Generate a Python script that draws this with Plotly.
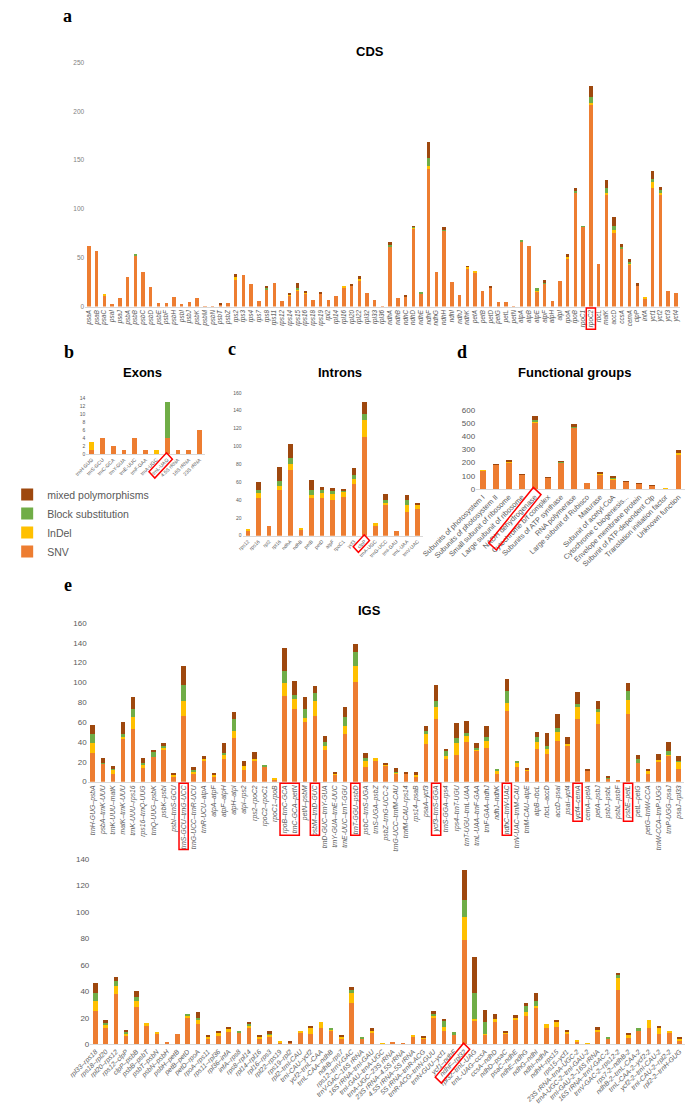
import plotly.graph_objects as go

W, H = 685, 1112
SERIES = ["SNV", "InDel", "Block substitution", "mixed polymorphisms"]
COLORS = ["#ED7D31", "#FFC000", "#70AD47", "#9E480E"]

# ---------------- a: CDS ----------------
cds_genes = ["psaA", "psaB", "psaC", "psaI", "psaJ", "psbA", "psbB", "psbC", "psbD", "psbE", "psbF", "psbH",
             "psbI", "psbJ", "psbK", "psbM", "psbN", "psbT", "psbZ", "rps2", "rps3", "rps4", "rps7", "rps8",
             "rps11", "rps12", "rps14", "rps15", "rps16", "rps18", "rps19", "rpl2", "rpl14", "rpl16", "rpl20",
             "rpl22", "rpl32", "rpl33", "rpl36", "ndhA", "ndhB", "ndhC", "ndhD", "ndhE", "ndhF", "ndhG", "ndhH",
             "ndhI", "ndhJ", "ndhK", "petA", "petB", "petD", "petG", "petL", "petN", "atpA", "atpB", "atpE",
             "atpF", "atpH", "atpI", "rpoA", "rpoB", "rpoC1", "rpoC2", "rbcL", "matK", "accD", "ccsA", "cemA",
             "clpP", "infA", "ycf1", "ycf2", "ycf3", "ycf4"]
cds_snv = [62, 57, 12, 3, 9, 30, 53, 35, 20, 4, 4, 10, 3, 5, 9, 1, 1, 3, 4, 28, 32, 23, 6, 17, 24, 6, 12, 17, 14,
           7, 14, 7, 11, 20, 22, 27, 14, 7, 1, 61, 9, 11, 80, 14, 141, 35, 78, 25, 12, 39, 35, 16, 20, 5, 5, 1,
           67, 62, 16, 24, 6, 26, 50, 117, 82, 206, 44, 115, 76, 60, 44, 22, 9, 121, 114, 16, 14]
cds_indel = [0, 0, 1, 0, 0, 0, 0, 0, 0, 0, 0, 0, 0, 0, 0, 0, 0, 0, 0, 2, 0, 0, 0, 0, 0, 0, 1, 1, 1, 0, 0, 0, 0, 1,
             0, 1, 0, 0, 0, 0, 0, 0, 1, 0, 3, 0, 0, 0, 0, 2, 1, 0, 0, 0, 0, 0, 0, 0, 1, 0, 0, 0, 1, 0, 0, 3, 0, 1,
             2, 0, 1, 0, 1, 7, 3, 0, 0]
cds_block = [0, 0, 0, 0, 0, 0, 1, 0, 0, 0, 0, 0, 0, 0, 0, 0, 0, 0, 0, 0, 0, 0, 0, 3, 0, 0, 0, 1, 0, 0, 0, 0, 0, 0,
             0, 0, 0, 0, 0, 3, 0, 0, 1, 1, 8, 0, 1, 0, 0, 0, 0, 0, 0, 0, 0, 0, 1, 0, 2, 1, 0, 0, 0, 1, 1, 6, 0, 5,
             5, 1, 1, 0, 0, 3, 2, 0, 0]
cds_mixed = [0, 0, 0, 0, 0, 0, 0, 0, 0, 0, 0, 0, 0, 0, 0, 0, 0, 1, 0, 3, 0, 0, 0, 1, 0, 0, 1, 5, 1, 0, 1, 0, 0, 0,
             1, 3, 0, 0, 0, 2, 0, 1, 1, 0, 17, 0, 2, 0, 0, 1, 0, 0, 1, 0, 0, 0, 0, 0, 0, 2, 0, 0, 3, 3, 0, 11, 0,
             9, 9, 3, 3, 2, 0, 8, 3, 0, 0]

# ---------------- b: Exons ----------------
exon_names = ["trnH-GUG", "trnS-GCU", "trnC-GCA", "trnY-GUA", "trnE-UUC", "trnF-GAA", "trnA-UGC", "trnL-UAG",
              "4.5S rRNA", "16S rRNA", "23S rRNA"]
exon_snv = [1, 4, 2, 1, 4, 1, 0, 4, 1, 1, 6]
exon_indel = [2, 0, 0, 0, 0, 0, 1, 0, 0, 0, 0]
exon_block = [0, 0, 0, 0, 0, 0, 0, 9, 0, 0, 0]
exon_mixed = [0, 0, 0, 0, 0, 0, 0, 0, 0, 0, 0]

# ---------------- c: Introns ----------------
intron_names = ["rps12", "rps16", "rpl2", "rpl16", "ndhA", "ndhB", "petB", "petD", "atpF", "rpoC1", "ycf3",
                "clpP", "trnA-UGC", "trnG-UCC", "trnI-GAU", "trnL-UAA", "trnV-UAC"]
intron_snv = [6, 42, 11, 51, 73, 7, 42, 42, 40, 43, 58, 110, 12, 34, 5, 27, 30]
intron_indel = [1, 7, 0, 5, 7, 1, 4, 7, 7, 7, 6, 19, 2, 3, 0, 7, 5]
intron_block = [0, 2, 0, 5, 7, 0, 5, 2, 3, 1, 4, 7, 0, 3, 0, 6, 0]
intron_mixed = [0, 9, 0, 16, 16, 0, 11, 3, 3, 1, 8, 14, 0, 7, 0, 6, 1]

# ---------------- d: Functional groups ----------------
func_names = ["Subunits of photosystem I", "Subunits of photosystem II", "Small subunit of ribosome",
              "Large subunit of ribosome", "NADH dehydrogenase", "Cytochrome b/f complex",
              "Subunits of ATP synthase", "RNA polymerase", "Large subunit of Rubisco", "Maturase",
              "Subunit of acetyl-CoA", "Cytochrome c biogenesis...", "Envelope membrane protein",
              "Subunit of ATP-dependent Clp", "Translation initiation factor", "Unknown function"]
func_snv = [143, 188, 206, 111, 506, 88, 203, 465, 43, 116, 78, 59, 45, 26, 9, 265]
func_indel = [1, 0, 4, 1, 6, 1, 1, 4, 0, 1, 2, 0, 1, 0, 1, 10]
func_block = [0, 1, 4, 0, 13, 0, 4, 8, 0, 5, 6, 1, 1, 0, 0, 5]
func_mixed = [0, 1, 9, 4, 27, 2, 2, 12, 0, 10, 10, 3, 1, 2, 0, 14]

# ---------------- e: IGS (top row) ----------------
igs1_names = ["trnH-GUG–psbA", "psbA–trnK-UUU", "trnK-UUU–matK", "matK–trnK-UUU", "trnK-UUU–rps16",
              "rps16–trnQ-UUG", "trnQ-UUG–psbK", "psbK–psbI", "psbI–trnS-GCU", "trnS-GCU–trnG-UCC",
              "trnG-UCC–trnR-UCU", "trnR-UCU–atpA", "atpA–atpF", "atpF–atpH", "atpH–atpI", "atpI–rps2",
              "rps2–rpoC2", "rpoC2–rpoC1", "rpoC1–rpoB", "rpoB–trnC-GCA", "trnC-GCA–petN", "petN–psbM",
              "psbM–trnD-GUC", "trnD-GUC–trnY-GUA", "trnY-GUA–trnE-UUC", "trnE-UUC–trnT-GGU",
              "trnT-GGU–psbD", "psbC–trnS-UGA", "trnS-UGA–psbZ", "psbZ–trnG-UCC-2", "trnG-UCC–trnfM-CAU",
              "trnfM-CAU–rps14", "rps14–psaB", "psaA–ycf3", "ycf3–trnS-GGA", "trnS-GGA–rps4",
              "rps4–trnT-UGU", "trnT-UGU–trnL-UAA", "trnL-UAA–trnF-GAA", "trnF-GAA–ndhJ", "ndhJ–ndhK",
              "ndhC–trnV-UAC", "trnV-UAC–trnM-CAU", "trnM-CAU–atpE", "atpB–rbcL", "rbcL–accD", "accD–psaI",
              "psaI–ycf4", "ycf4–cemA", "cemA–petA", "petA–psbJ", "psbJ–psbL", "psbL–psbF", "psbE–petL",
              "petL–petG", "petG–trnW-CCA", "trnW-CCA–trnP-UGG", "trnP-UGG–psaJ", "psaJ–rpl33"]
igs1_snv = [29, 18, 8, 44, 53, 14, 25, 32, 5, 66, 8, 21, 5, 23, 44, 12, 21, 15, 2, 86, 73, 60, 66, 32, 7, 48,
            100, 15, 21, 16, 8, 8, 5, 38, 63, 23, 27, 40, 31, 34, 8, 71, 15, 11, 33, 28, 41, 36, 63, 11, 58, 3,
            2, 68, 19, 8, 20, 26, 13]
igs1_indel = [10, 0, 4, 1, 12, 3, 0, 2, 2, 15, 2, 2, 2, 4, 7, 4, 2, 0, 1, 13, 10, 4, 15, 4, 1, 8, 17, 6, 3, 1,
              1, 0, 2, 11, 12, 3, 12, 7, 1, 7, 3, 8, 4, 1, 7, 5, 9, 2, 12, 0, 12, 0, 0, 14, 0, 3, 2, 1, 7]
igs1_block = [9, 1, 1, 3, 8, 2, 5, 2, 0, 16, 2, 0, 0, 2, 12, 0, 0, 1, 0, 13, 4, 9, 8, 4, 0, 9, 14, 3, 0, 0, 1,
              0, 0, 2, 6, 5, 5, 2, 2, 4, 1, 12, 1, 0, 5, 3, 4, 0, 3, 0, 3, 1, 0, 9, 4, 0, 0, 4, 1]
igs1_mixed = [9, 5, 3, 12, 12, 5, 1, 3, 2, 20, 3, 3, 1, 10, 7, 5, 7, 0, 0, 23, 14, 12, 7, 6, 2, 10, 8, 5, 0, 2,
              4, 2, 3, 5, 16, 2, 15, 12, 5, 11, 0, 12, 0, 2, 5, 13, 14, 7, 12, 1, 8, 1, 0, 8, 4, 2, 6, 9, 5]

# ---------------- e: IGS (bottom row) ----------------
igs2_names = ["rpl33–rps18", "rps18–rpl20", "rpl20–rps12", "rps12–clpP", "clpP–psbB", "psbB–psbT",
              "psbT–psbN", "psbN–psbH", "psbH–petB", "petB–petD", "petD–rpoA", "rpoA–rps11", "rps11–rpl36",
              "rpl36–infA", "infA–rps8", "rps8–rpl14", "rpl14–rpl16", "rpl16–rps3", "rpl22–rps19",
              "rps19–rpl2", "rpl2–trnI-CAU", "trnI-CAU–ycf2", "ycf2–trnL-CAA", "trnL-CAA–ndhB", "ndhB–rps7",
              "rps12–trnV-GAC", "trnV-GAC–16S rRNA", "16S rRNA–trnI-GAU", "trnI-GAU–trnA-UGC",
              "trnA-UGC–23S rRNA", "23S rRNA–4.5S rRNA", "4.5S rRNA–5S rRNA", "5S rRNA–trnR-ACG",
              "trnR-ACG–trnN-GUU", "trnN-GUU–ycf1", "ycf1–ndhF", "ndhF–rpl32", "rpl32–trnL-UAG",
              "trnL-UAG–ccsA", "ccsA–ndhD", "ndhD–psaC", "psaC–ndhE", "ndhE–ndhG", "ndhG–ndhI", "ndhI–ndhA",
              "ndhH–rps15", "rps15–ycf1", "23S rRNA–trnA-UGC-2", "trnA-UGC-2–trnI-GAU-2",
              "trnI-GAU-2–16S rRNA", "16S rRNA–trnV-GAC-2", "trnV-GAC-2–rps12-2", "rps7-2–ndhB-2",
              "ndhB-2–trnL-CAA-2", "trnL-CAA-2–ycf2-2", "ycf2-2–trnI-CAU-2", "trnI-CAU-2–rpl2-2",
              "rpl2-2–trnH-GUG"]
igs2_snv = [25, 12, 38, 6, 28, 14, 8, 2, 8, 20, 15, 4, 6, 9, 9, 12, 4, 6, 1, 1, 9, 8, 12, 10, 4, 31, 4, 9, 0, 2,
            1, 6, 4, 20, 10, 7, 79, 18, 7, 17, 8, 19, 21, 27, 12, 13, 8, 2, 0, 9, 4, 41, 5, 10, 12, 8, 9, 3]
igs2_indel = [8, 3, 6, 2, 5, 2, 1, 0, 0, 1, 4, 2, 3, 3, 0, 2, 2, 1, 1, 0, 1, 4, 5, 1, 2, 8, 0, 1, 1, 0, 0, 1, 1,
              2, 3, 0, 17, 1, 1, 2, 1, 1, 3, 2, 3, 4, 1, 1, 1, 2, 0, 9, 2, 0, 6, 4, 1, 1]
igs2_block = [6, 1, 4, 1, 3, 0, 0, 0, 0, 2, 1, 0, 0, 0, 1, 1, 0, 1, 0, 0, 0, 0, 0, 1, 0, 2, 1, 0, 0, 0, 0, 0, 0,
              1, 5, 2, 13, 20, 9, 0, 0, 0, 5, 4, 0, 0, 0, 0, 0, 0, 1, 2, 0, 2, 0, 0, 0, 0]
igs2_mixed = [7, 2, 3, 2, 4, 0, 0, 0, 0, 0, 4, 1, 1, 1, 0, 2, 1, 2, 0, 1, 0, 2, 0, 0, 1, 2, 0, 2, 0, 0, 0, 0, 1,
              2, 1, 0, 23, 27, 9, 4, 1, 2, 2, 6, 0, 1, 2, 0, 0, 2, 0, 2, 1, 0, 0, 2, 0, 1]

# ---------------- layout helpers ----------------
FONT = "Liberation Sans, Arial, sans-serif"
GRAY = "#595959"


def fx(p):
    return p / W


def fy(p):
    return 1 - p / H


panels = [
    dict(names=cds_genes, vals=[cds_snv, cds_indel, cds_block, cds_mixed], xd=(32.8, 679.2), yd=(305, 59),
         yr=[0, 250], dt=50, yfs=6.5, xfs=6.3, ang=-90, ital=True, ycol="#7f7f7f"),
    dict(names=exon_names, vals=[exon_snv, exon_indel, exon_block, exon_mixed], xd=(34, 163), yd=(453.7, 397),
         yr=[0, 14], dt=2, yfs=5, xfs=5, ang=-45, ital=False, ycol=GRAY),
    dict(names=intron_names, vals=[intron_snv, intron_indel, intron_block, intron_mixed], xd=(204, 400),
         yd=(536, 392), yr=[0, 160], dt=20, yfs=5, xfs=5, ang=-45, ital=False, ycol=GRAY),
    dict(names=func_names, vals=[func_snv, func_indel, func_block, func_mixed], xd=(457.9, 685), yd=(489, 409),
         yr=[0, 600], dt=100, yfs=8, xfs=7.3, ang=-45, ital=False, ycol=GRAY),
    dict(names=igs1_names, vals=[igs1_snv, igs1_indel, igs1_block, igs1_mixed], xd=(35.5, 683.5),
         yd=(784, 624), yr=[0, 160], dt=20, yfs=8, xfs=6.8, ang=-90, ital=True, ycol=GRAY),
    dict(names=igs2_names, vals=[igs2_snv, igs2_indel, igs2_block, igs2_mixed], xd=(38.4, 684.6),
         yd=(1048.7, 862), yr=[0, 140], dt=20, yfs=8, xfs=6.8, ang=-45, ital=True, ycol=GRAY),
]

fig = go.Figure()
layout_axes = {}
for k, p in enumerate(panels):
    sfx = "" if k == 0 else str(k + 1)
    for s in range(4):
        fig.add_trace(go.Bar(
            x=p["names"], y=p["vals"][s], name=SERIES[s],
            marker=dict(color=COLORS[s], line=dict(width=0)),
            xaxis="x" + sfx, yaxis="y" + sfx,
            showlegend=(k == 1), legendgroup=SERIES[s], hoverinfo="x+y+name"))
    layout_axes["xaxis" + sfx] = dict(
        domain=[fx(p["xd"][0]), fx(p["xd"][1])], anchor="y" + sfx, type="category",
        tickmode="array", tickvals=p["names"], ticktext=p["names"], tickangle=p["ang"],
        tickfont=dict(family=FONT, size=p["xfs"], color=GRAY, style="italic" if p["ital"] else "normal"),
        showline=True, linecolor="#d9d9d9", linewidth=1, ticks="", showgrid=False, zeroline=False,
        fixedrange=True)
    layout_axes["yaxis" + sfx] = dict(
        domain=[fy(p["yd"][0]), fy(p["yd"][1])], anchor="x" + sfx, range=p["yr"], dtick=p["dt"], tick0=0,
        tickfont=dict(family=FONT, size=p["yfs"], color=p["ycol"]), showgrid=False, zeroline=False,
        showline=False, ticks="", fixedrange=True)

annotations = []
titles = [("CDS", 342, 48), ("Exons", 95, 372), ("Introns", 310, 372), ("Functional groups", 565, 372),
          ("IGS", 342, 611)]
for t, x, y in titles:
    annotations.append(dict(text="<b>" + t + "</b>", x=fx(x), y=fy(y), xref="paper", yref="paper",
                            showarrow=False, font=dict(family=FONT, size=13, color="#000000"),
                            xanchor="center", yanchor="middle"))
letters = [("a", 14, 12), ("b", 15, 351), ("c", 192, 348), ("d", 442, 351), ("e", 14, 586)]
for t, x, y in letters:
    annotations.append(dict(text="<b>" + t + "</b>", x=fx(x), y=fy(y), xref="paper", yref="paper",
                            showarrow=False, font=dict(family="Liberation Serif, Times New Roman, serif",
                                                       size=18, color="#000000"),
                            xanchor="center", yanchor="middle"))

# ---------------- red highlight boxes around tick labels ----------------
shapes = []
RED = "#FF0000"


def cat_x(p, i):
    n = len(p["names"])
    return p["xd"][0] + (i + 0.5) / n * (p["xd"][1] - p["xd"][0])


def vbox(p, i0, i1, half, length):
    x0 = cat_x(p, i0) - half
    x1 = cat_x(p, i1) + half
    y0 = p["yd"][0] + 1.5
    y1 = p["yd"][0] + length
    shapes.append(dict(type="rect", xref="paper", yref="paper", x0=fx(x0), x1=fx(x1), y0=fy(y0), y1=fy(y1),
                       line=dict(color=RED, width=1.5)))


def dbox(p, i, length, half, dx=2.5, dy=2.0, ang=45):
    import math
    cx = cat_x(p, i) + dx
    cy = p["yd"][0] + dy
    a = math.radians(ang)
    d = (-math.cos(a), math.sin(a))
    nrm = (math.sin(a), math.cos(a))
    pts = [(cx + nrm[0] * half, cy + nrm[1] * half), (cx - nrm[0] * half, cy - nrm[1] * half),
           (cx - nrm[0] * half + d[0] * length, cy - nrm[1] * half + d[1] * length),
           (cx + nrm[0] * half + d[0] * length, cy + nrm[1] * half + d[1] * length)]
    path = "M " + " L ".join("%.5f,%.5f" % (fx(x), fy(y)) for x, y in pts) + " Z"
    shapes.append(dict(type="path", path=path, xref="paper", yref="paper", line=dict(color=RED, width=1.5)))


vbox(panels[0], cds_genes.index("rpoC2"), cds_genes.index("rpoC2"), 5, 23)
dbox(panels[1], exon_names.index("trnL-UAG"), 27, 4.5)
dbox(panels[2], intron_names.index("clpP"), 17, 4)
dbox(panels[3], func_names.index("NADH dehydrogenase"), 74, 5.5, ang=49)
for a_, b_ in [("trnS-GCU–trnG-UCC", None), ("rpoB–trnC-GCA", "trnC-GCA–petN"), ("psbM–trnD-GUC", None),
               ("trnT-GGU–psbD", None), ("ycf3–trnS-GGA", None), ("ndhC–trnV-UAC", None),
               ("ycf4–cemA", None), ("psbE–petL", None)]:
    i0 = igs1_names.index(a_)
    i1 = igs1_names.index(b_) if b_ else i0
    longest = max(len(igs1_names[i0]), len(igs1_names[i1]))
    vbox(panels[4], i0, i1, 5, 8 + longest * 3.55)
dbox(panels[5], igs2_names.index("ndhF–rpl32"), 46, 4.5, ang=48)

fig.update_layout(
    width=W, height=H, margin=dict(l=0, r=0, t=0, b=0), paper_bgcolor="white", plot_bgcolor="white",
    barmode="stack", bargap=0.56, annotations=annotations, shapes=shapes,
    legend=dict(x=fx(-52), y=fy(480), xanchor="left", yanchor="top", traceorder="reversed",
                font=dict(family=FONT, size=10.5, color=GRAY), bgcolor="rgba(0,0,0,0)"),
    font=dict(family=FONT),
    **layout_axes)

fig.write_html("out.html", config={"displayModeBar": False},
               post_script="document.body.style.margin='0';document.body.style.overflow='hidden';")
